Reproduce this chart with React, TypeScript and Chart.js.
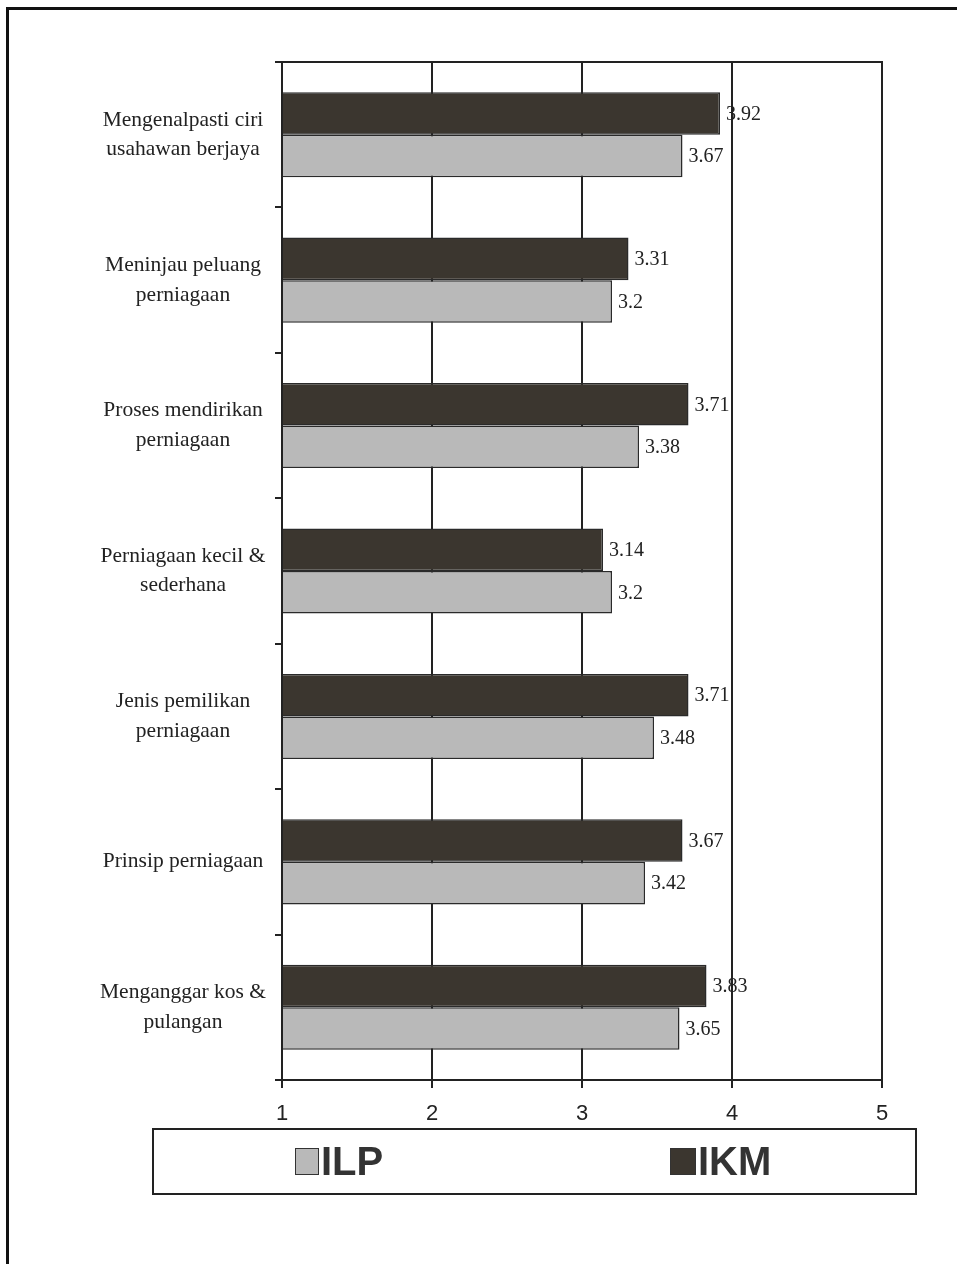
import React, { useEffect, useRef } from "react";
import { Chart, registerables } from "chart.js";

Chart.register(...registerables);

const categories: string[][] = [
  ["Mengenalpasti ciri", "usahawan berjaya"],
  ["Meninjau peluang", "perniagaan"],
  ["Proses mendirikan", "perniagaan"],
  ["Perniagaan kecil &", "sederhana"],
  ["Jenis pemilikan", "perniagaan"],
  ["Prinsip perniagaan"],
  ["Menganggar kos &", "pulangan"],
];
const ikmValues = [3.92, 3.31, 3.71, 3.14, 3.71, 3.67, 3.83];
const ilpValues = [3.67, 3.2, 3.38, 3.2, 3.48, 3.42, 3.65];
const xTicks = [1, 2, 3, 4, 5];
const legendLabels = ["ILP", "IKM"];

const DARK = "#3b362f";
const LIGHT = "#b9b9b9";
const LINE = "#222222";

const valueLabels = {
  id: "valueLabels",
  afterDatasetsDraw(chart: any) {
    const ctx = chart.ctx;
    ctx.save();
    ctx.font = '20px "Liberation Serif", "Times New Roman", serif';
    ctx.fillStyle = "#222";
    ctx.textAlign = "left";
    ctx.textBaseline = "middle";
    chart.data.datasets.forEach((ds: any, di: number) => {
      const meta = chart.getDatasetMeta(di);
      meta.data.forEach((el: any, i: number) => {
        ctx.fillText(String(ds.data[i]), el.x + 6, el.y + 1);
      });
    });
    ctx.restore();
  },
};

const topBorder = {
  id: "topBorder",
  afterDraw(chart: any) {
    const { ctx, chartArea } = chart;
    ctx.save();
    ctx.strokeStyle = LINE;
    ctx.lineWidth = 2;
    ctx.beginPath();
    ctx.moveTo(chartArea.left - 2, chartArea.top);
    ctx.lineTo(chartArea.right + 1, chartArea.top);
    ctx.stroke();
    ctx.restore();
  },
};

export default function App() {
  const ref = useRef<HTMLCanvasElement | null>(null);

  useEffect(() => {
    if (!ref.current) return;
    const chart = new Chart(ref.current, {
      type: "bar",
      data: {
        labels: categories,
        datasets: [
          {
            label: legendLabels[1],
            data: ikmValues,
            base: 1,
            backgroundColor: DARK,
            borderColor: "#2a2a2a",
            borderWidth: 1.5,
            categoryPercentage: 0.585,
            barPercentage: 1,
          },
          {
            label: legendLabels[0],
            data: ilpValues,
            base: 1,
            backgroundColor: LIGHT,
            borderColor: "#2a2a2a",
            borderWidth: 1.5,
            categoryPercentage: 0.585,
            barPercentage: 1,
          },
        ],
      },
      options: {
        indexAxis: "y",
        responsive: false,
        animation: false,
        devicePixelRatio: 1,
        layout: { padding: { left: 90, right: 75, top: 62, bottom: 0 } },
        plugins: {
          legend: { display: false },
          tooltip: { enabled: false },
        },
        scales: {
          x: {
            type: "linear",
            min: 1,
            max: 5,
            afterFit: (s: any) => {
              s.height = 184;
            },
            afterBuildTicks: (s: any) => {
              s.ticks = xTicks.map((v) => ({ value: v }));
            },
            grid: {
              color: LINE,
              lineWidth: 2,
              tickLength: 8,
              drawTicks: true,
            },
            border: { display: true, color: LINE, width: 2 },
            ticks: {
              padding: 13,
              color: "#222",
              font: { family: '"Liberation Sans", Arial, sans-serif', size: 22 },
            },
          },
          y: {
            type: "category",
            afterFit: (s: any) => {
              s.width = 192;
            },
            grid: {
              drawOnChartArea: false,
              drawTicks: true,
              tickLength: 7,
              color: LINE,
              lineWidth: 2,
              offset: true,
            },
            border: { display: true, color: LINE, width: 2 },
            ticks: {
              crossAlign: "center",
              padding: 9,
              color: "#222",
              font: {
                family: '"Liberation Serif", "Times New Roman", serif',
                size: 21.5,
                lineHeight: 1.37,
              },
            },
          },
        },
      },
      plugins: [valueLabels, topBorder],
    } as any);
    return () => chart.destroy();
  }, []);

  const legendText: React.CSSProperties = {
    position: "absolute",
    top: 1138,
    height: 46,
    lineHeight: "46px",
    fontFamily: '"Liberation Sans", Arial, sans-serif',
    fontWeight: "bold",
    fontSize: 40,
    color: "#333",
  };

  return (
    <div
      style={{
        position: "absolute",
        left: 0,
        top: 0,
        width: 957,
        height: 1264,
        background: "#fff",
        overflow: "hidden",
      }}
    >
      <div
        style={{
          position: "absolute",
          left: 6,
          top: 7,
          width: 960,
          height: 1270,
          borderLeft: "3px solid #111",
          borderTop: "3px solid #111",
        }}
      />
      <canvas
        ref={ref}
        width={957}
        height={1264}
        style={{ position: "absolute", left: 0, top: 0, width: 957, height: 1264 }}
      />
      <div
        style={{
          position: "absolute",
          left: 152,
          top: 1128,
          width: 765,
          height: 67,
          border: "2px solid #222",
          boxSizing: "border-box",
        }}
      />
      <div
        style={{
          position: "absolute",
          left: 295,
          top: 1148,
          width: 24,
          height: 27,
          background: LIGHT,
          border: "1.5px solid #333",
          boxSizing: "border-box",
        }}
      />
      <div style={{ ...legendText, left: 321 }}>{legendLabels[0]}</div>
      <div
        style={{
          position: "absolute",
          left: 670,
          top: 1148,
          width: 26,
          height: 27,
          background: DARK,
          border: "1.5px solid #333",
          boxSizing: "border-box",
        }}
      />
      <div style={{ ...legendText, left: 698 }}>{legendLabels[1]}</div>
    </div>
  );
}
